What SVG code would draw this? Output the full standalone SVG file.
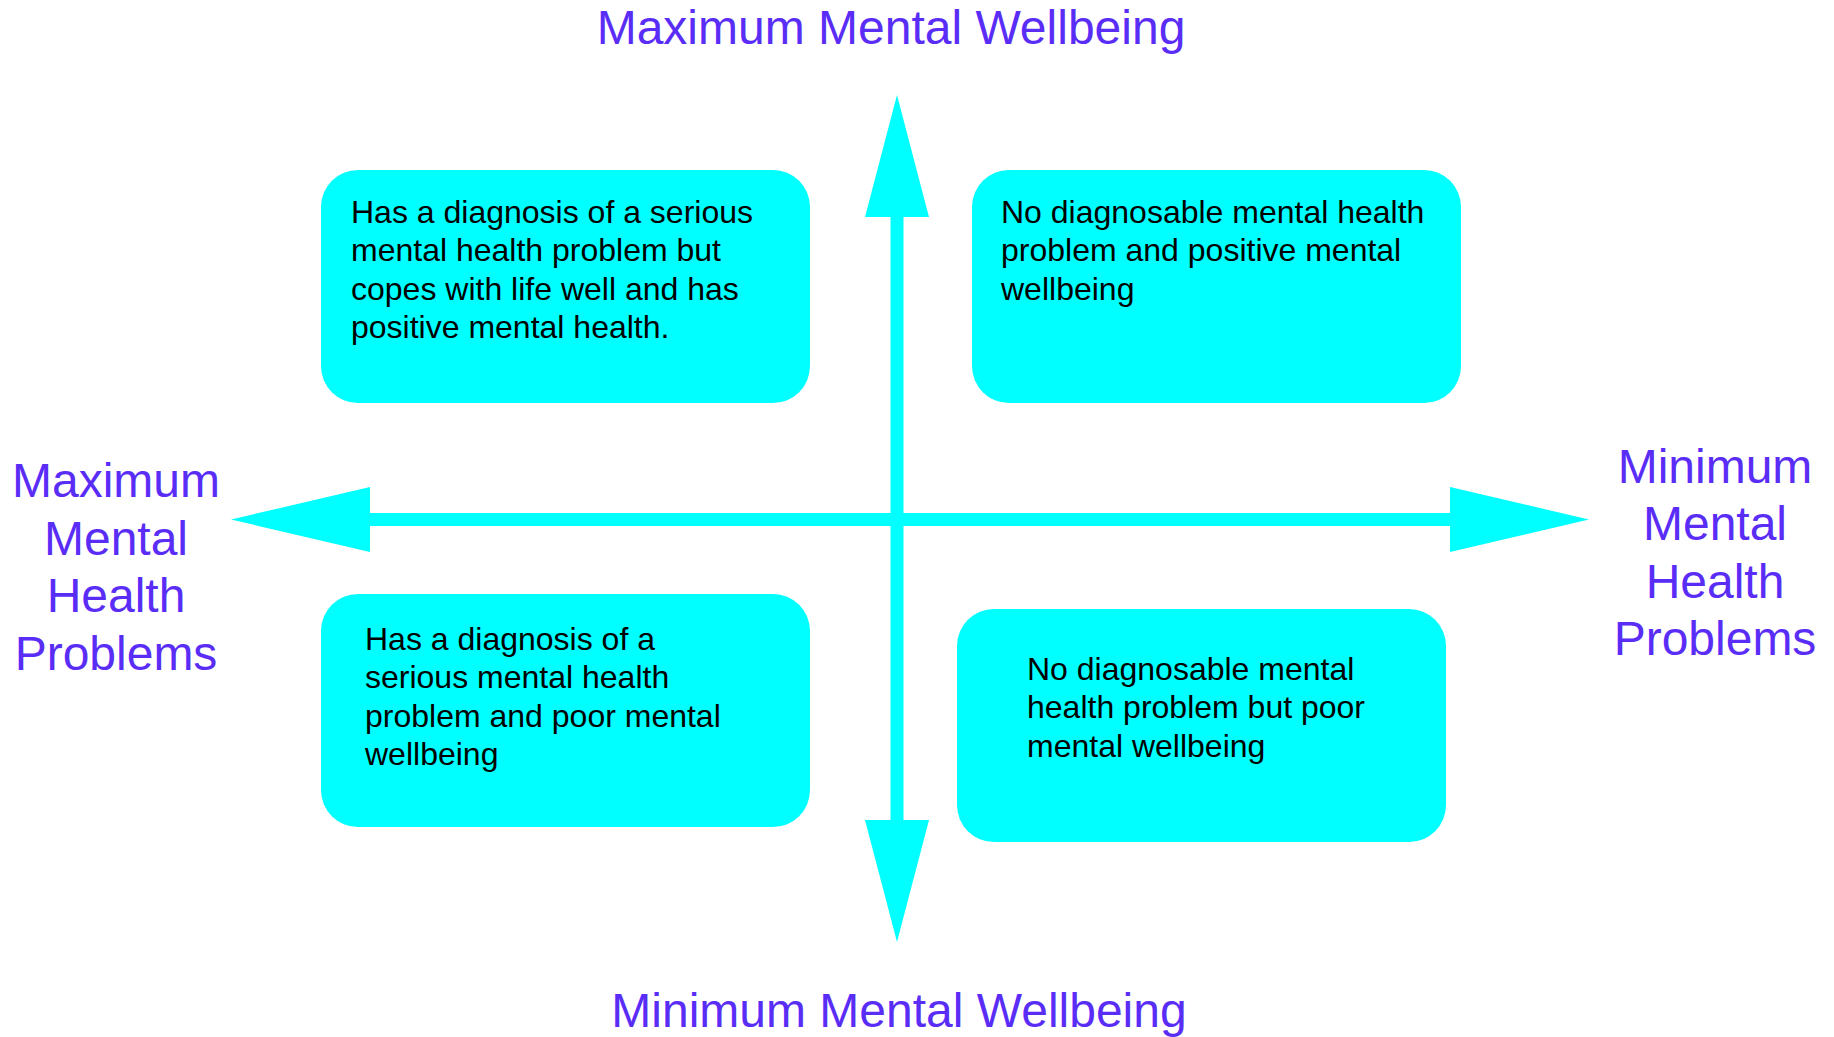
<svg xmlns="http://www.w3.org/2000/svg" width="1834" height="1037" viewBox="0 0 1834 1037">
<style>
.box{fill:#00ffff}
.bt{font-family:"Liberation Sans",Arial,sans-serif;font-size:32px;fill:#000}
.lab{font-family:"Liberation Sans",Arial,sans-serif;font-size:48px;fill:#5a2df7}
.ax{fill:#00ffff}
</style>
<rect width="1834" height="1037" fill="#ffffff"/>
<g id="connectors">
<rect class="ax" x="368" y="513" width="1084" height="13"/>
<polygon class="ax" points="231,519.5 370,487 370,552"/>
<polygon class="ax" points="1589,519.5 1450,487 1450,552"/>
<rect class="ax" x="890.5" y="215" width="13" height="607"/>
<polygon class="ax" points="897,95 865,217 929,217"/>
<polygon class="ax" points="897,942 865,820 929,820"/>
</g>
<g id="title-top"><text class="lab" x="891" y="44" text-anchor="middle">Maximum Mental Wellbeing</text></g>
<g id="title-bottom"><text class="lab" x="899" y="1027" text-anchor="middle">Minimum Mental Wellbeing</text></g>
<g id="label-left"><text class="lab" text-anchor="middle"><tspan x="116" y="497">Maximum</tspan><tspan x="116" y="555">Mental</tspan><tspan x="116" y="612">Health</tspan><tspan x="116" y="670">Problems</tspan></text></g>
<g id="label-right"><text class="lab" text-anchor="middle"><tspan x="1715" y="483">Minimum</tspan><tspan x="1715" y="540">Mental</tspan><tspan x="1715" y="598">Health</tspan><tspan x="1715" y="655">Problems</tspan></text></g>
<g id="box-tl">
<rect class="box" x="321" y="170" width="489" height="233" rx="37"/>
<text class="bt"><tspan x="351" y="223">Has a diagnosis of a serious</tspan><tspan x="351" y="261.4">mental health problem but</tspan><tspan x="351" y="299.8">copes with life well and has</tspan><tspan x="351" y="338.2">positive mental health.</tspan></text>
</g>
<g id="box-tr">
<rect class="box" x="972" y="170" width="489" height="233" rx="37"/>
<text class="bt"><tspan x="1001" y="223">No diagnosable mental health</tspan><tspan x="1001" y="261.4">problem and positive mental</tspan><tspan x="1001" y="299.8">wellbeing</tspan></text>
</g>
<g id="box-bl">
<rect class="box" x="321" y="594" width="489" height="233" rx="37"/>
<text class="bt"><tspan x="365" y="650">Has a diagnosis of a</tspan><tspan x="365" y="688.4">serious mental health</tspan><tspan x="365" y="726.8">problem and poor mental</tspan><tspan x="365" y="765.2">wellbeing</tspan></text>
</g>
<g id="box-br">
<rect class="box" x="957" y="609" width="489" height="233" rx="37"/>
<text class="bt"><tspan x="1027" y="680">No diagnosable mental</tspan><tspan x="1027" y="718.4">health problem but poor</tspan><tspan x="1027" y="756.8">mental wellbeing</tspan></text>
</g>
</svg>
